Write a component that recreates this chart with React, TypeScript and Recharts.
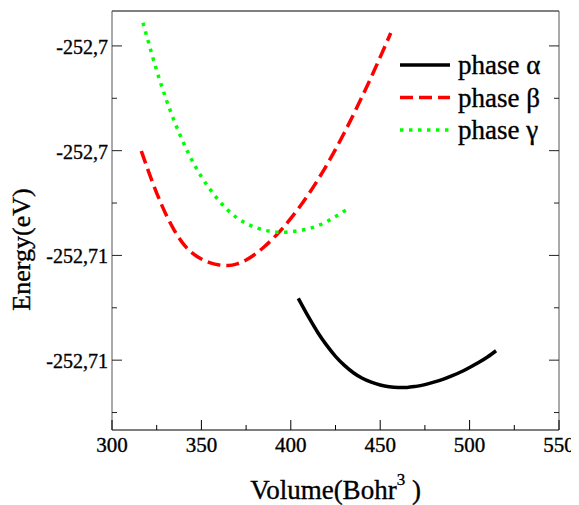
import React from "react";
import { LineChart, Line, XAxis, YAxis, Legend } from "recharts";

// Total energy versus cell volume for three phases
const alphaVolume = [404.2, 410, 415, 420, 425, 430, 435, 440, 445, 450, 455, 460, 465, 470, 475, 480, 485, 490, 495, 500, 505, 510, 514.8];
const alphaEnergy = [
  -252.70723, -252.70777, -252.7082, -252.70857, -252.70889, -252.70915, -252.70936, -252.70952,
  -252.70963, -252.70971, -252.70976, -252.70978, -252.70978, -252.70975, -252.7097, -252.70963,
  -252.70955, -252.70945, -252.70934, -252.70921, -252.70907, -252.70891, -252.70873,
];

const betaVolume = [316.4, 320, 325, 330, 335, 340, 345, 350, 355, 360, 365, 370, 375, 380, 385, 390, 395, 400, 405, 410, 415, 420, 425, 430, 435, 440, 445, 450, 455.9];
const betaEnergy = [
  -252.70301, -252.703534, -252.704214, -252.704804, -252.705294, -252.705674, -252.705934, -252.706104,
  -252.706214, -252.706274, -252.706292, -252.706242, -252.70613, -252.705965, -252.70576, -252.70552,
  -252.705245, -252.70494, -252.704605, -252.70424, -252.703845, -252.70342, -252.702965, -252.70248,
  -252.70197, -252.70144, -252.70089, -252.70032, -252.69963,
];

const gammaVolume = [317.3, 320, 325, 330, 335, 340, 345, 350, 355, 360, 365, 370, 375, 380, 385, 390, 395, 400, 405, 410, 415, 420, 425, 431.3];
const gammaEnergy = [
  -252.699335, -252.699822, -252.700707, -252.701486, -252.702176, -252.702778, -252.703305, -252.703746,
  -252.704118, -252.704444, -252.704714, -252.704926, -252.70508, -252.705195, -252.705275, -252.70532,
  -252.705338, -252.705322, -252.70529, -252.705236, -252.70515, -252.705035, -252.704885, -252.704691,
];

const xMajorTicks = [300, 350, 400, 450, 500, 550];
const xMinorTicks = [325, 375, 425, 475, 525];
const yMajorTicks = [-252.7, -252.703, -252.706, -252.709];
const yMajorLabels = ["-252,7", "-252,7", "-252,71", "-252,71"];
const yMinorTicks = [-252.7015, -252.7045, -252.7075, -252.7105];

const xDomain = [300, 550];
const yDomain = [-252.711, -252.699];

const seriesNames = ["phase α", "phase β", "phase γ"];
const seriesColors = ["#000000", "#ff0000", "#00ff00"];

const toPoints = (vs: number[], es: number[]) => vs.map((v, i) => ({ volume: v, energy: es[i] }));

const alphaData = toPoints(alphaVolume, alphaEnergy);
const betaData = toPoints(betaVolume, betaEnergy);
const gammaData = toPoints(gammaVolume, gammaEnergy);

const xTicks = [...xMajorTicks, ...xMinorTicks].sort((a, b) => a - b);
const yTicks = [...yMajorTicks, ...yMinorTicks].sort((a, b) => a - b);

const FONT = '"Liberation Serif", "Times New Roman", serif';
// regular face with a hairline outline for slightly heavier glyphs
const TEXT_STYLE = { fontFamily: FONT, fill: "#000", stroke: "#000", strokeWidth: 0.35 };
const MAJOR = 10;
const MINOR = 5;
const FRAME_V = "#555";
const TINY = 0.001;

const near = (a: number, b: number) => Math.abs(a - b) < 1e-7;

function AxisTick(props: any) {
  const { x, y, payload, side } = props;
  const v = payload.value as number;
  if (side === "bottom" || side === "top") {
    const major = xMajorTicks.some((t) => near(t, v));
    const len = major ? MAJOR : MINOR;
    const dir = side === "bottom" ? -1 : 1;
    return (
      <g>
        <line x1={x} y1={y} x2={x} y2={y + dir * len} stroke="#000" strokeWidth={1} />
        {side === "bottom" && major && (
          <text x={x} y={y + 22} textAnchor="middle" fontSize={21} {...TEXT_STYLE}>
            {v}
          </text>
        )}
      </g>
    );
  }
  const idx = yMajorTicks.findIndex((t) => near(t, v));
  const major = idx >= 0;
  const len = major ? MAJOR : MINOR;
  const dir = side === "left" ? 1 : -1;
  return (
    <g>
      <line x1={x} y1={y} x2={x + dir * len} y2={y} stroke="#222" strokeWidth={1} />
      {side === "left" && major && (
        <text x={x - 4} y={y + 8} textAnchor="end" fontSize={20} {...TEXT_STYLE}>
          {yMajorLabels[idx]}
        </text>
      )}
    </g>
  );
}

function XTitle(props: any) {
  const { x, y, width } = props.viewBox;
  return (
    <text x={x + width / 2} y={y + 69} textAnchor="middle" fontSize={27} {...TEXT_STYLE}>
      Volume(Bohr
      <tspan dy={-14} fontSize={17}>3</tspan>
      <tspan dy={14}>{"\u00A0)"}</tspan>
    </text>
  );
}

function YTitle(props: any) {
  const { x, y, height } = props.viewBox;
  const cx = x + 13;
  const cy = y + height / 2 + 29;
  return (
    <text
      x={cx}
      y={cy}
      transform={`rotate(-90 ${cx} ${cy})`}
      textAnchor="middle"
      dominantBaseline="central"
      fontSize={26}
      {...TEXT_STYLE}
    >
      Energy(eV)
    </text>
  );
}

const dashes = [undefined, "13 6", "3.5 5.5"];

function LegendBox() {
  return (
    <svg width={180} height={100} style={{ overflow: "visible" }}>
      {seriesNames.map((name, i) => {
        const cy = 16 + i * 32.5;
        return (
          <g key={name}>
            <line x1={0} x2={50} y1={cy} y2={cy} stroke={seriesColors[i]} strokeWidth={3.5} strokeDasharray={dashes[i]} />
            <text x={58} y={cy + 9} fontSize={27} {...TEXT_STYLE}>
              {name}
            </text>
          </g>
        );
      })}
    </svg>
  );
}

export default function App() {
  return (
    <div>
      <style>{"html, body { overflow: hidden; }"}</style>
      <LineChart width={571} height={497} margin={{ top: 2, right: 19, bottom: 0, left: 0 }}>
        <XAxis
          xAxisId="bottom"
          dataKey="volume"
          type="number"
          domain={xDomain}
          ticks={xTicks}
          interval={0}
          height={75}
          tickSize={TINY}
          tickMargin={TINY}
          tickLine={false}
          axisLine={{ stroke: "#000", strokeWidth: 1 }}
          tick={(p: any) => <AxisTick {...p} side="bottom" />}
          label={{ content: XTitle }}
          allowDataOverflow
        />
        <XAxis
          xAxisId="top"
          orientation="top"
          type="number"
          domain={xDomain}
          ticks={xTicks}
          interval={0}
          height={1}
          tickSize={TINY}
          tickMargin={TINY}
          tickLine={false}
          axisLine={{ stroke: "#000", strokeWidth: 1 }}
          tick={(p: any) => <AxisTick {...p} side="top" />}
          allowDataOverflow
        />
        <YAxis
          yAxisId="left"
          type="number"
          domain={yDomain}
          ticks={yTicks}
          interval={0}
          width={104}
          tickSize={TINY}
          tickMargin={TINY}
          tickLine={false}
          axisLine={{ stroke: FRAME_V, strokeWidth: 1 }}
          tick={(p: any) => <AxisTick {...p} side="left" />}
          label={{ content: YTitle }}
          allowDataOverflow
        />
        <YAxis
          yAxisId="right"
          orientation="right"
          type="number"
          domain={yDomain}
          ticks={yTicks}
          interval={0}
          width={1}
          tickSize={TINY}
          tickMargin={TINY}
          tickLine={false}
          axisLine={{ stroke: FRAME_V, strokeWidth: 1 }}
          tick={(p: any) => <AxisTick {...p} side="right" />}
          allowDataOverflow
        />
        <Legend
          layout="vertical"
          align="center"
          verticalAlign="middle"
          wrapperStyle={{ left: 392, top: 41, width: 180, height: 100 }}
          content={() => <LegendBox />}
        />
        <Line
          xAxisId="bottom"
          yAxisId="left"
          data={alphaData}
          dataKey="energy"
          name={seriesNames[0]}
          type="monotone"
          stroke={seriesColors[0]}
          strokeWidth={3.5}
          dot={false}
          activeDot={false}
          isAnimationActive={false}
        />
        <Line
          xAxisId="bottom"
          yAxisId="left"
          data={betaData}
          dataKey="energy"
          name={seriesNames[1]}
          type="monotone"
          stroke={seriesColors[1]}
          strokeWidth={3.5}
          strokeDasharray={dashes[1]}
          dot={false}
          activeDot={false}
          isAnimationActive={false}
        />
        <Line
          xAxisId="bottom"
          yAxisId="left"
          data={gammaData}
          dataKey="energy"
          name={seriesNames[2]}
          type="monotone"
          stroke={seriesColors[2]}
          strokeWidth={3.5}
          strokeDasharray={dashes[2]}
          dot={false}
          activeDot={false}
          isAnimationActive={false}
        />
      </LineChart>
    </div>
  );
}
